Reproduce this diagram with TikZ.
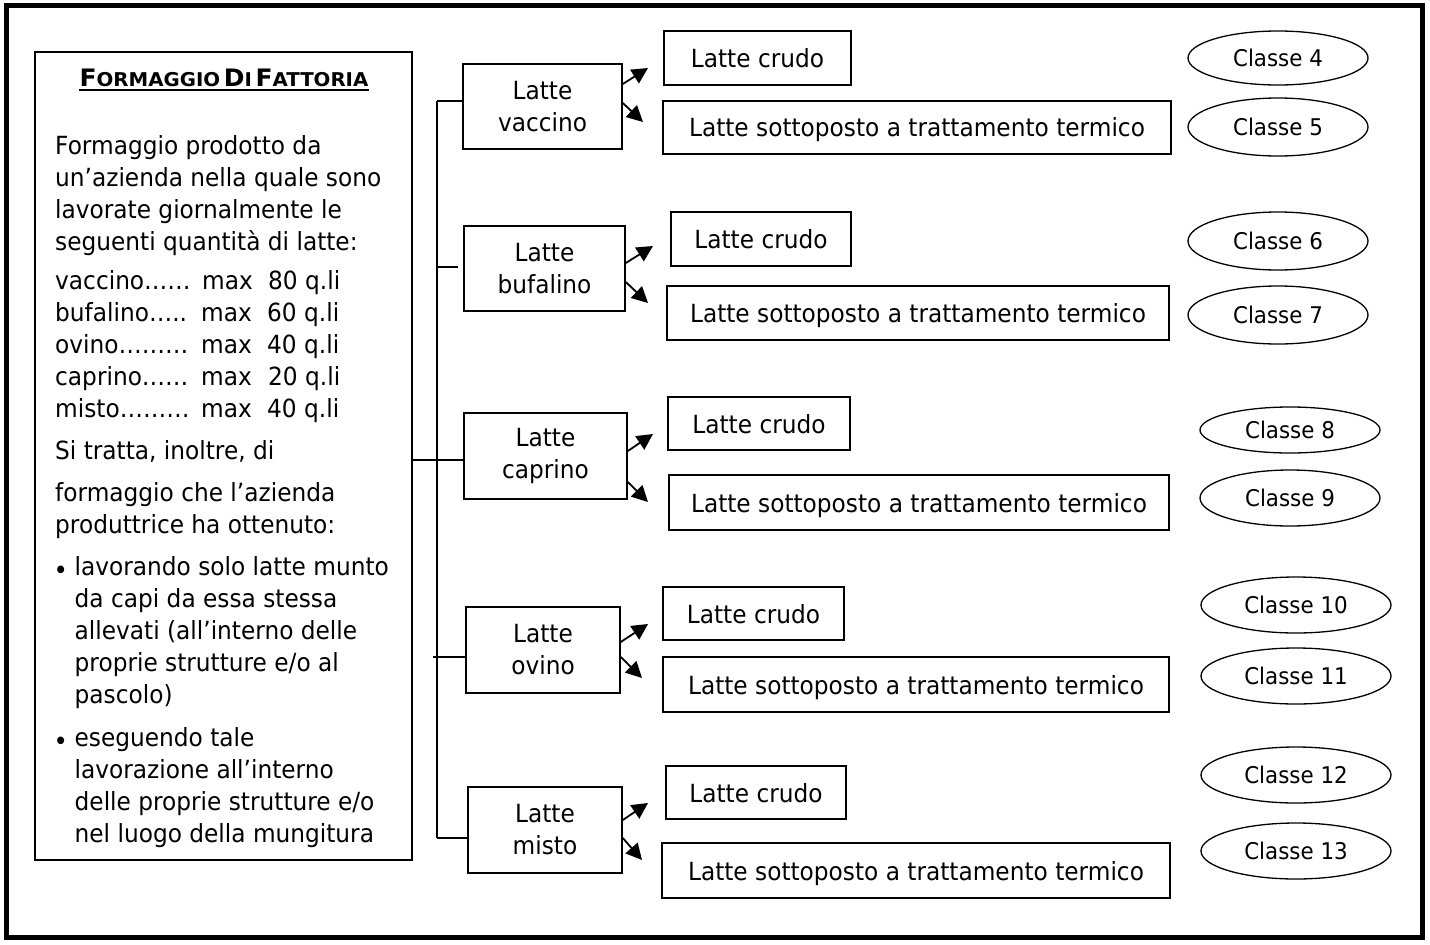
\documentclass[tikz,border=0pt]{standalone}
\usepackage{fontspec}
\setmainfont{DejaVu Sans}[FakeStretch=0.93]
\newfontfamily\titlefont{DejaVu Sans}[FakeStretch=1.04]
\usetikzlibrary{arrows.meta,shapes.geometric}
\newcommand{\bodyfnt}{\fontsize{25}{31}\selectfont}
\newcommand{\midfnt}{\fontsize{25}{32}\selectfont}
\newcommand{\clsfnt}{\fontsize{23}{27}\selectfont}
\newcommand{\bigT}{\fontsize{24}{27}\selectfont}
\newcommand{\smlT}{\fontsize{19}{27}\selectfont}
\begin{document}
\begin{tikzpicture}[x=1pt,y=-1pt,
  box/.style={draw, line width=1.6pt, inner sep=0pt, font=\bodyfnt, align=center},
  midbox/.style={box, font=\midfnt},
  onebox/.style={box, text depth=0pt},
  txt/.style={anchor=base west, inner sep=0pt, font=\bodyfnt},
  bul/.style={anchor=base west, inner sep=0pt, font=\fontsize{26}{28}\selectfont},
  cls/.style={ellipse, draw, line width=1.3pt, inner sep=0pt, font=\clsfnt},
  arr/.style={line width=1.8pt, -{Triangle[length=16pt,width=16pt]}},
  link/.style={line width=1.6pt}]
\useasboundingbox (0,0) rectangle (1430,945);
\node[draw, line width=5pt, minimum width=1416pt, minimum height=932.5pt, inner sep=0pt] (frame) at (714,471.25) {};

% left box
\node[draw, line width=1.6pt, minimum width=377pt, minimum height=808pt, inner sep=0pt] (lbox) at (223.5,456) {};
\node[anchor=base, inner sep=0pt, font=\titlefont\bfseries] (title) at (224,86)
  {{\bigT F}{\smlT ORMAGGIO} {\bigT D}{\smlT I} {\bigT F}{\smlT ATTORIA}};
\draw[line width=2.5pt] ([yshift=-4pt]title.base west) -- ([yshift=-4pt]title.base east);

\node[txt] (p1) at (55,154) {Formaggio prodotto da};
\node[txt] (p2) at (55,186) {un’azienda nella quale sono};
\node[txt] (p3) at (55,218) {lavorate giornalmente le};
\node[txt] (p4) at (55,250) {seguenti quantità di latte:};

\node[txt] (q1) at (55,289) {vaccino……};
\node[txt] (q2) at (55,321) {bufalino…..};
\node[txt] (q3) at (55,353) {ovino………};
\node[txt] (q4) at (55,385) {caprino……};
\node[txt] (q5) at (55,417) {misto………};
\node[txt] (m1) at (202,289) {max};
\node[txt] (m2) at (201,321) {max};
\node[txt] (m3) at (201,353) {max};
\node[txt] (m4) at (201,385) {max};
\node[txt] (m5) at (201,417) {max};
\node[txt] (n1) at (268,289) {80 q.li};
\node[txt] (n2) at (267,321) {60 q.li};
\node[txt] (n3) at (267,353) {40 q.li};
\node[txt] (n4) at (268,385) {20 q.li};
\node[txt] (n5) at (267,417) {40 q.li};

\node[txt] (s1) at (55,459) {Si tratta, inoltre, di};
\node[txt] (s2) at (55,501.5) {formaggio che l’azienda};
\node[txt] (s3) at (55,533) {produttrice ha ottenuto:};

\node[bul] (b1) at (53.5,579) {•};
\node[txt] (a1) at (74.5,575) {lavorando solo latte munto};
\node[txt] (a2) at (74.5,607) {da capi da essa stessa};
\node[txt] (a3) at (74.5,639.5) {allevati (all’interno delle};
\node[txt] (a4) at (74.5,671.5) {proprie strutture e/o al};
\node[txt] (a5) at (74.5,703) {pascolo)};
\node[bul] (b2) at (53.5,750) {•};
\node[txt] (c1) at (74.5,746) {eseguendo tale};
\node[txt] (c2) at (74.5,778) {lavorazione all’interno};
\node[txt] (c3) at (74.5,810) {delle proprie strutture e/o};
\node[txt] (c4) at (74.5,842) {nel luogo della mungitura};

% middle boxes
\node[midbox, minimum width=159pt, minimum height=85pt] (vac) at (542.5,106.5) {Latte\\vaccino};
\node[midbox, minimum width=161pt, minimum height=85pt] (buf) at (544.5,268.5) {Latte\\bufalino};
\node[midbox, minimum width=163pt, minimum height=86pt] (cap) at (545.5,456) {Latte\\caprino};
\node[midbox, minimum width=154pt, minimum height=86pt] (ovi) at (543,650) {Latte\\ovino};
\node[midbox, minimum width=154pt, minimum height=86pt] (mis) at (545,830) {Latte\\misto};

% right boxes
\node[onebox, minimum width=187pt, minimum height=54pt] (vc) at (757.5,58) {Latte crudo};
\node[onebox, minimum width=508pt, minimum height=53pt] (vs) at (917,127.5) {Latte sottoposto a trattamento termico};
\node[onebox, minimum width=180pt, minimum height=54pt] (bc) at (761,239) {Latte crudo};
\node[onebox, minimum width=502pt, minimum height=54pt] (bs) at (918,313) {Latte sottoposto a trattamento termico};
\node[onebox, minimum width=182pt, minimum height=53pt] (cc) at (759,423.5) {Latte crudo};
\node[onebox, minimum width=500pt, minimum height=55pt] (cs) at (919,502.5) {Latte sottoposto a trattamento termico};
\node[onebox, minimum width=181pt, minimum height=53pt] (oc) at (753.5,613.5) {Latte crudo};
\node[onebox, minimum width=506pt, minimum height=55pt] (os) at (916,684.5) {Latte sottoposto a trattamento termico};
\node[onebox, minimum width=180pt, minimum height=53pt] (mc) at (756,792.5) {Latte crudo};
\node[onebox, minimum width=508pt, minimum height=55pt] (ms) at (916,870.5) {Latte sottoposto a trattamento termico};

% ellipses
\node[cls, minimum width=180pt, minimum height=54pt] (k4) at (1278,58) {Classe 4};
\node[cls, minimum width=180pt, minimum height=58pt] (k5) at (1278,127) {Classe 5};
\node[cls, minimum width=180pt, minimum height=58pt] (k6) at (1278,241) {Classe 6};
\node[cls, minimum width=180pt, minimum height=58pt] (k7) at (1278,315) {Classe 7};
\node[cls, minimum width=180pt, minimum height=46pt] (k8) at (1290,430) {Classe 8};
\node[cls, minimum width=180pt, minimum height=56pt] (k9) at (1290,498) {Classe 9};
\node[cls, minimum width=190pt, minimum height=56pt] (k10) at (1296,605) {Classe 10};
\node[cls, minimum width=190pt, minimum height=56pt] (k11) at (1296,676) {Classe 11};
\node[cls, minimum width=190pt, minimum height=56pt] (k12) at (1296,775) {Classe 12};
\node[cls, minimum width=190pt, minimum height=56pt] (k13) at (1296,851) {Classe 13};

% trunk and links
\coordinate (tTop) at (437,101);
\coordinate (tBot) at (437,838);
\coordinate (bA) at (437,267);
\coordinate (bB) at (458,267);
\coordinate (oA) at (433,657);
\draw[link] (tTop) -- (tBot);
\draw[link] (tTop) -- (tTop -| vac.west);
\draw[link] (bA) -- (bB);
\draw[link] ([yshift=-4pt]lbox.east) -- ([yshift=-4pt]lbox.east -| cap.west);
\draw[link] (oA) -- (oA -| ovi.west);
\draw[link] (tBot) -- (tBot -| mis.west);

% arrow tips
\coordinate (vU) at (648,68);   \coordinate (vD) at (643,122);
\coordinate (bU) at (653,246);  \coordinate (bD) at (648,303);
\coordinate (cU) at (653,434);  \coordinate (cD) at (648,502);
\coordinate (oU) at (648,624);  \coordinate (oD) at (642,678);
\coordinate (mU) at (648,803);  \coordinate (mD) at (642,860);
\draw[arr] ([yshift=22.5pt]vac.east) -- (vU);
\draw[arr] ([yshift=3.5pt]vac.east) -- (vD);
\draw[arr] ([yshift=5.5pt]buf.east) -- (bU);
\draw[arr] ([yshift=-13.5pt]buf.east) -- (bD);
\draw[arr] ([yshift=5pt]cap.east) -- (cU);
\draw[arr] ([yshift=-26pt]cap.east) -- (cD);
\draw[arr] ([yshift=8pt]ovi.east) -- (oU);
\draw[arr] ([yshift=-7pt]ovi.east) -- (oD);
\draw[arr] ([yshift=10pt]mis.east) -- (mU);
\draw[arr] ([yshift=-8pt]mis.east) -- (mD);
\end{tikzpicture}
\end{document}
